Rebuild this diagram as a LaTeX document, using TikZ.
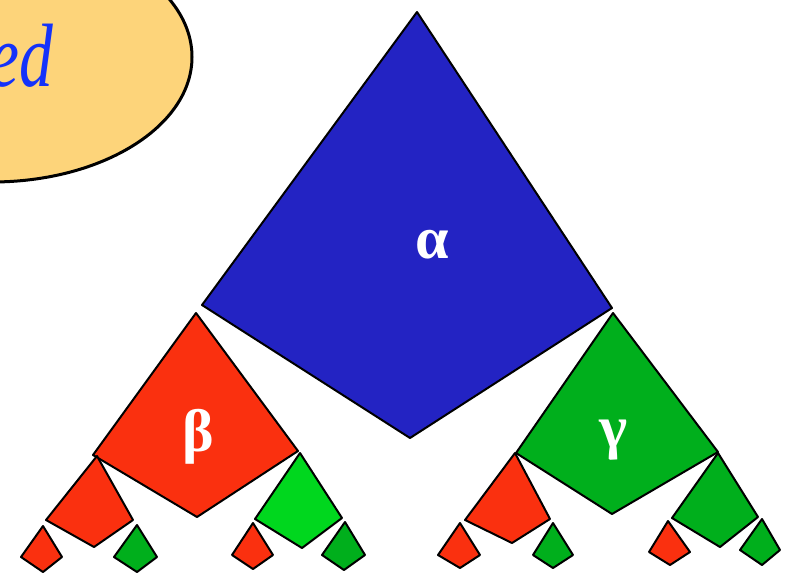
\documentclass[tikz,border=0pt]{standalone}
\usepackage{fontspec}
\setmainfont{Liberation Serif}
\definecolor{kblue}{RGB}{35,35,195}
\definecolor{kred}{RGB}{250,48,15}
\definecolor{kgreen}{RGB}{0,175,28}
\definecolor{kgreenb}{RGB}{0,215,30}
\definecolor{kbubble}{RGB}{253,212,122}
\definecolor{ktext}{RGB}{20,50,250}
\newcommand\drawkite[5]{%
  \filldraw[kiteline, fill=#1] #2 -- #3 -- #5 -- #4 -- cycle;}
\begin{document}
\begin{tikzpicture}[x=1pt,y=-1pt,
  kiteline/.style={draw=black, line width=2pt, line join=round},
  greek/.style={text=white, font=\fontsize{60}{64}\selectfont\bfseries, inner sep=0pt}]
\useasboundingbox (0,0) rectangle (791,577);
\clip (0,0) rectangle (791,577);
% bubble
\filldraw[fill=kbubble, draw=black, line width=3pt] (-8,57) ellipse [x radius=200, y radius=125];
\node[anchor=base east, text=ktext, font=\fontsize{90}{96}\selectfont\itshape, inner sep=0pt] (bubbletext) at (53,87) {\scalebox{0.75}[1]{ed}};
% level 0
\drawkite{kblue}{(417,12)}{(202,305)}{(612,308)}{(410,438)}
% level 1
\drawkite{kred}{(196,313)}{(93,455)}{(298,451)}{(197,517)}
\drawkite{kgreen}{(613,313)}{(516,453)}{(718,452)}{(612,514)}
% level 2
\drawkite{kred}{(97,456)}{(46,520)}{(133,520)}{(94,547)}
\drawkite{kgreenb}{(300,453)}{(255,519)}{(342,518)}{(302,548)}
\drawkite{kred}{(515,453)}{(465,520)}{(550,519)}{(512,543)}
\drawkite{kgreen}{(718,453)}{(672,518)}{(758,517)}{(720,547)}
% level 3
\drawkite{kred}{(43,526)}{(21,557)}{(62,557)}{(43,572)}
\drawkite{kgreen}{(137,525)}{(114,557)}{(157,557)}{(137,572)}
\drawkite{kred}{(253,523)}{(232,555)}{(273,555)}{(253,569)}
\drawkite{kgreen}{(345,522)}{(322,555)}{(365,555)}{(344,570)}
\drawkite{kred}{(460,523)}{(438,555)}{(480,555)}{(460,568)}
\drawkite{kgreen}{(553,523)}{(533,555)}{(573,555)}{(553,568)}
\drawkite{kred}{(668,521)}{(649,552)}{(690,552)}{(670,565)}
\drawkite{kgreen}{(762,519)}{(740,550)}{(780,550)}{(762,565)}
% labels
\node[greek] (alpha) at (432,245) {α};
\node[greek] (beta) at (198,437) {β};
\node[greek] (gamma) at (614,440) {γ};
\end{tikzpicture}
\end{document}
